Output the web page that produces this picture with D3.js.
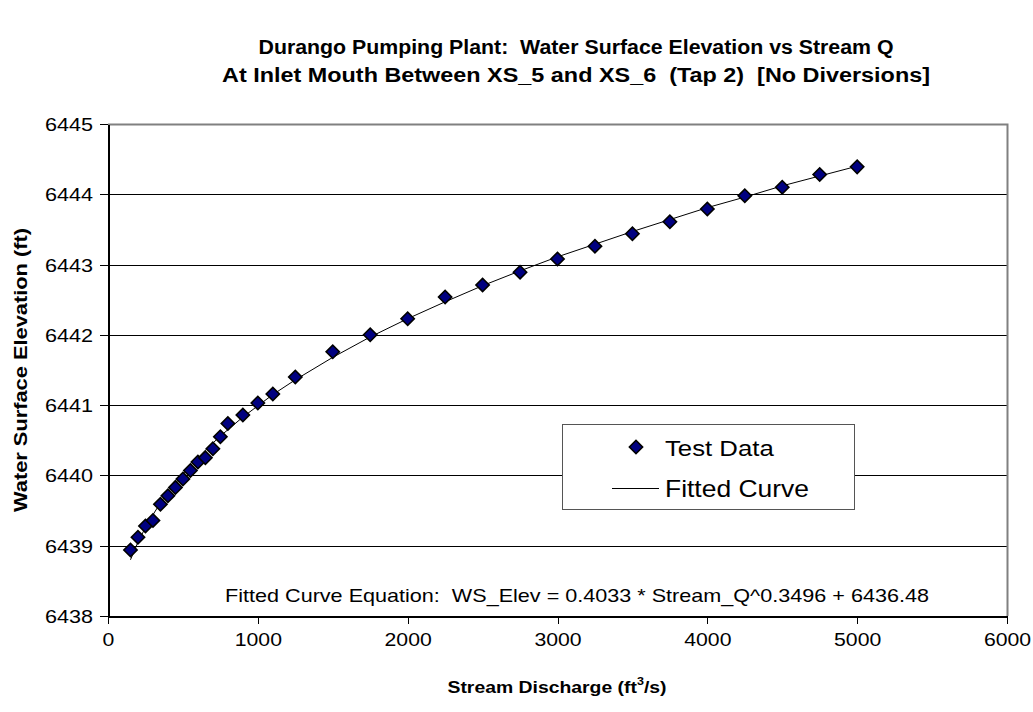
<!DOCTYPE html>
<html>
<head>
<meta charset="UTF-8">
<title>Durango Pumping Plant</title>
<script src="https://d3js.org/d3.v7.min.js"></script>
<style type="text/css">
  body { margin: 0; background: #fff; font-family: "Liberation Sans", Arial, sans-serif; }
  svg { display: block; }
  text { white-space: pre; }
  .axis text { font-size: 18px; fill: #000; }
  .axis path, .axis line { stroke: #000; shape-rendering: crispEdges; }
  .title { font-size: 19.5px; font-weight: bold; }
  .label { font-weight: bold; }
</style>
</head>
<body>
<script type="text/javascript">
// Stream discharge (cfs) of each test run
const discharge = [150, 200, 250, 300, 350, 400, 450, 500, 550, 600, 650, 700, 750, 800, 900,
  1000, 1100, 1250, 1500, 1750, 2000, 2250, 2500, 2750, 3000, 3250, 3500, 3750, 4000,
  4250, 4500, 4750, 5000];
// Measured water surface elevation (ft)
const testElev = [6438.94, 6439.12, 6439.28, 6439.36, 6439.59, 6439.71, 6439.83, 6439.95, 6440.07,
  6440.19, 6440.25, 6440.38, 6440.55, 6440.74, 6440.86, 6441.03, 6441.16, 6441.40, 6441.76,
  6442.00, 6442.23, 6442.54, 6442.71, 6442.89, 6443.08, 6443.26, 6443.44, 6443.61, 6443.79,
  6443.98, 6444.10, 6444.28, 6444.39];
// Fitted curve elevation at the same discharges (ft)
const fittedElev = [6438.80, 6439.05, 6439.26, 6439.44, 6439.61, 6439.76, 6439.89, 6440.02, 6440.14,
  6440.25, 6440.36, 6440.46, 6440.56, 6440.65, 6440.83, 6440.99, 6441.15, 6441.36, 6441.68,
  6441.97, 6442.23, 6442.47, 6442.70, 6442.91, 6443.11, 6443.29, 6443.47, 6443.64, 6443.81,
  6443.96, 6444.12, 6444.26, 6444.40];
const xTicks = [0, 1000, 2000, 3000, 4000, 5000, 6000];
const yTicks = [6438, 6439, 6440, 6441, 6442, 6443, 6444, 6445];
const titleLines = ['Durango Pumping Plant:  Water Surface Elevation vs Stream Q',
  'At Inlet Mouth Between XS_5 and XS_6  (Tap 2)  [No Diversions]'];
const equation = 'Fitted Curve Equation:  WS_Elev = 0.4033 * Stream_Q^0.3496 + 6436.48';

const W = 1033, H = 712;
const plot = { left: 108, right: 1007, top: 124, bottom: 616 };
// the original font is a bit wider than Arial, so text is stretched along its line
const stretch = 1.2;
const titleWidths = [635, 708];

const svg = d3.select('body').append('svg')
  .attr('width', W)
  .attr('height', H);

// scales
const x = d3.scaleLinear().domain([0, 6000]).range([plot.left, plot.right]);
const y = d3.scaleLinear().domain([6438, 6445]).range([plot.bottom, plot.top]);

// put a text at (tx,ty) and widen it
function wide(sel, tx, ty, sx) {
  return sel.attr('transform', 'translate(' + tx + ',' + ty + ') scale(' + sx + ',1)');
}

// titles
svg.selectAll('.title').data(titleLines).enter().append('text')
  .attr('class', 'title')
  .attr('text-anchor', 'middle')
  .attr('x', 576)
  .attr('y', (d, i) => 54 + i * 28)
  .attr('textLength', (d, i) => titleWidths[i])
  .attr('lengthAdjust', 'spacingAndGlyphs')
  .text(d => d);

// gridlines
svg.append('g').selectAll('line').data(yTicks.slice(1, -1)).enter().append('line')
  .attr('x1', plot.left).attr('x2', plot.right)
  .attr('y1', d => Math.round(y(d)) + 0.5).attr('y2', d => Math.round(y(d)) + 0.5)
  .attr('stroke', '#000').attr('stroke-width', 1);

// top and right plot border (gray)
svg.append('path')
  .attr('d', `M${plot.left},${plot.top + 0.5}H${plot.right + 0.5}V${plot.bottom}`)
  .attr('fill', 'none').attr('stroke', '#808080').attr('stroke-width', 2);

// axes
const xAxis = d3.axisBottom(x).tickValues(xTicks).tickSize(8).tickPadding(9)
  .tickSizeOuter(0).tickFormat(d3.format('d'));
const yAxis = d3.axisLeft(y).tickValues(yTicks).tickSize(8).tickPadding(7)
  .tickSizeOuter(0).tickFormat(d3.format('d'));

svg.append('g')
  .attr('class', 'x axis')
  .attr('transform', 'translate(0,' + plot.bottom + ')')
  .call(xAxis)
  .call(g => g.select('.domain').attr('stroke-width', 2))
  .call(g => g.selectAll('text').each(function () {
    const t = d3.select(this);
    wide(t, 0, +t.attr('y'), 1.18).attr('y', 0);
  }));

svg.append('g')
  .attr('class', 'y axis')
  .attr('transform', 'translate(' + plot.left + ',0)')
  .call(yAxis)
  .call(g => g.select('.domain').attr('stroke-width', 2))
  .call(g => g.selectAll('text').each(function () {
    const t = d3.select(this);
    wide(t, +t.attr('x'), 0, stretch).attr('x', 0).attr('dy', '0.36em');
  }));

// fitted curve
const fitData = discharge.map((q, i) => ({ q: q, e: fittedElev[i] }));
svg.append('path')
  .datum(fitData)
  .attr('fill', 'none')
  .attr('stroke', '#000')
  .attr('stroke-width', 1)
  .attr('d', d3.line().x(d => x(d.q)).y(d => y(d.e)));

// test data markers
const diamond = d3.symbol().type(d3.symbolSquare).size(88);
const testData = discharge.map((q, i) => ({ q: q, e: testElev[i] }));
svg.append('g').selectAll('path').data(testData).enter().append('path')
  .attr('d', diamond)
  .attr('transform', d => 'translate(' + x(d.q) + ',' + y(d.e) + ') rotate(45)')
  .attr('fill', '#000080')
  .attr('stroke', '#000')
  .attr('stroke-width', 1.6);

// legend
const legend = svg.append('g');
legend.append('rect')
  .attr('x', 562.5).attr('y', 424.5)
  .attr('width', 292).attr('height', 85)
  .attr('fill', '#fff').attr('stroke', '#555').attr('stroke-width', 1);
legend.append('path')
  .attr('d', diamond)
  .attr('transform', 'translate(636,447) rotate(45)')
  .attr('fill', '#000080').attr('stroke', '#000').attr('stroke-width', 1.6);
wide(legend.append('text'), 665, 456, 1.12)
  .style('font-size', '23px')
  .text('Test Data');
legend.append('line')
  .attr('x1', 612).attr('x2', 659)
  .attr('y1', 488.5).attr('y2', 488.5)
  .attr('stroke', '#000').attr('stroke-width', 1);
wide(legend.append('text'), 665, 497, 1.15)
  .style('font-size', '23px')
  .text('Fitted Curve');

// equation note
wide(svg.append('text'), 577, 602, stretch)
  .attr('text-anchor', 'middle')
  .style('font-size', '18px')
  .text(equation);

// axis labels
svg.append('text')
  .attr('class', 'label')
  .style('font-size', '19px')
  .attr('transform', 'translate(27,370) rotate(-90)')
  .attr('text-anchor', 'middle')
  .attr('textLength', 284)
  .attr('lengthAdjust', 'spacingAndGlyphs')
  .text('Water Surface Elevation (ft)');

const xLabel = wide(svg.append('text'), 557, 693, 1.14)
  .attr('class', 'label')
  .style('font-size', '17px')
  .attr('text-anchor', 'middle');
xLabel.append('tspan').text('Stream Discharge (ft');
xLabel.append('tspan').attr('dy', -8).style('font-size', '11px').text('3');
xLabel.append('tspan').attr('dy', 8).text('/s)');
</script>
</body>
</html>
